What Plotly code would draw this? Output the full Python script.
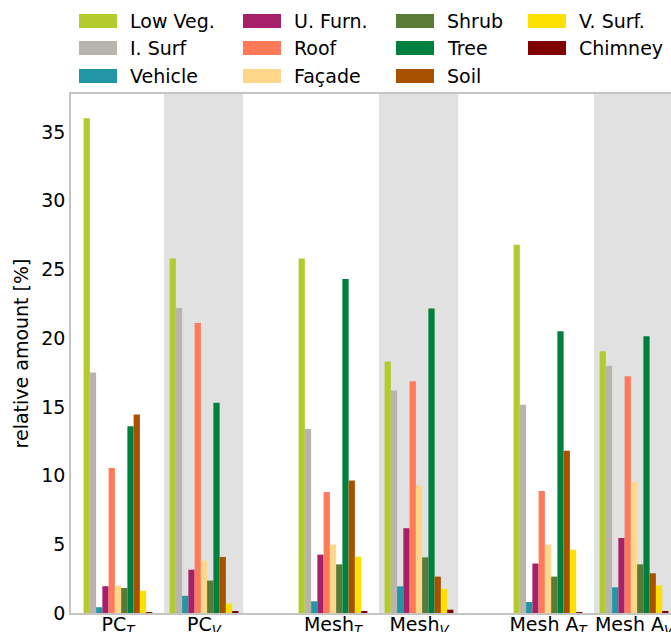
import plotly.graph_objects as go

# ---- data ----
groups = ["PC<sub><i>T</i></sub>", "PC<sub><i>V</i></sub>",
          "Mesh<sub><i>T</i></sub>", "Mesh<sub><i>V</i></sub>",
          "Mesh A<sub><i>T</i></sub>", "Mesh A<sub><i>V</i></sub>"]
group_pos = [0, 1, 2.5, 3.5, 5, 6]
shaded_groups = [1, 3, 5]

classes = ["Low Veg.", "I. Surf", "Vehicle", "U. Furn.", "Roof", "Façade",
           "Shrub", "Tree", "Soil", "V. Surf.", "Chimney"]
colors = ["#b3cb2d", "#b9b5ae", "#2196a5", "#a6206a", "#fe7a59", "#fed78b",
          "#587c38", "#00803f", "#a85200", "#fee000", "#7f0000"]

low_veg = [36.0, 25.8, 25.8, 18.3, 26.8, 19.05]
i_surf = [17.5, 22.2, 13.4, 16.2, 15.15, 18.0]
vehicle = [0.42, 1.25, 0.85, 1.94, 0.8, 1.87]
u_furn = [1.95, 3.15, 4.25, 6.17, 3.6, 5.46]
roof = [10.55, 21.1, 8.8, 16.87, 8.88, 17.23]
facade = [2.0, 3.8, 4.98, 9.27, 4.98, 9.54]
shrub = [1.82, 2.36, 3.54, 4.05, 2.65, 3.54]
tree = [13.6, 15.3, 24.3, 22.16, 20.5, 20.15]
soil = [14.45, 4.08, 9.64, 2.65, 11.8, 2.89]
v_surf = [1.62, 0.69, 4.1, 1.75, 4.6, 2.0]
chimney = [0.05, 0.12, 0.1, 0.24, 0.07, 0.15]

series = [low_veg, i_surf, vehicle, u_furn, roof, facade, shrub, tree, soil,
          v_surf, chimney]

y_ticks = [0, 5, 10, 15, 20, 25, 30, 35]

# ---- layout geometry (pixels) ----
W, H = 671, 632
PL, PR, PT, PB = 71, 671, 94, 613
FONT = "DejaVu Sans"
FS = 19


def px(x):
    return (x - PL) / (PR - PL)


def py(y):
    return (PB - y) / (PB - PT)


fig = go.Figure()
for name, col, vals in zip(classes, colors, series):
    fig.add_trace(go.Bar(x=group_pos, y=vals, name=name, marker_color=col,
                         marker_line_width=0, showlegend=False))

shapes = []
for g in shaded_groups:
    c = group_pos[g]
    shapes.append(dict(type="rect", xref="x", yref="paper", x0=c - 0.465,
                       x1=c + 0.455, y0=0, y1=1, fillcolor="#e1e1e1",
                       line_width=0, layer="below"))

# custom legend (3 rows, column-major)
annotations = []
col_x = [79, 243, 396, 528]
row_y = [21, 48, 76]
for i, (name, col) in enumerate(zip(classes, colors)):
    c, r = divmod(i, 3)
    x0 = col_x[c]
    yc = row_y[r]
    shapes.append(dict(type="rect", xref="paper", yref="paper",
                       x0=px(x0), x1=px(x0 + 38), y0=py(yc + 7), y1=py(yc - 7),
                       fillcolor=col, line_width=0))
    annotations.append(dict(xref="paper", yref="paper", x=px(x0 + 49),
                            y=py(yc), text=name, showarrow=False,
                            xanchor="left", yanchor="middle",
                            font=dict(size=FS, color="#000000", family=FONT)))

fig.update_layout(
    width=W, height=H, autosize=False,
    margin=dict(l=PL, r=W - PR, t=PT, b=H - PB, pad=0),
    paper_bgcolor="white", plot_bgcolor="white",
    barmode="group", bargap=0.2, bargroupgap=0,
    font=dict(family=FONT, size=FS, color="#000000"),
    shapes=shapes, annotations=annotations,
    xaxis=dict(range=[(PL - 118) / 86, (PR - 118) / 86], tickvals=group_pos,
               ticktext=groups, showgrid=False, zeroline=False,
               showline=True, linecolor="#c4c4c4", linewidth=1.5,
               mirror=True, ticks="", tickfont=dict(size=FS),
               ticklabelstandoff=-7, ticklabeloverflow="allow",
               automargin=False),
    yaxis=dict(range=[0, (PB - PT) / 13.74], tickvals=y_ticks,
               showgrid=False, zeroline=False, showline=True,
               linecolor="#c4c4c4", linewidth=1.5, ticks="",
               tickfont=dict(size=FS), automargin=False,
               title=dict(text="relative amount [%]", font=dict(size=FS),
                          standoff=8)),
)

fig.write_html("out.html",
               config={"displayModeBar": False},
               post_script="document.body.style.margin='0';"
                           "document.body.style.overflow='hidden';")
